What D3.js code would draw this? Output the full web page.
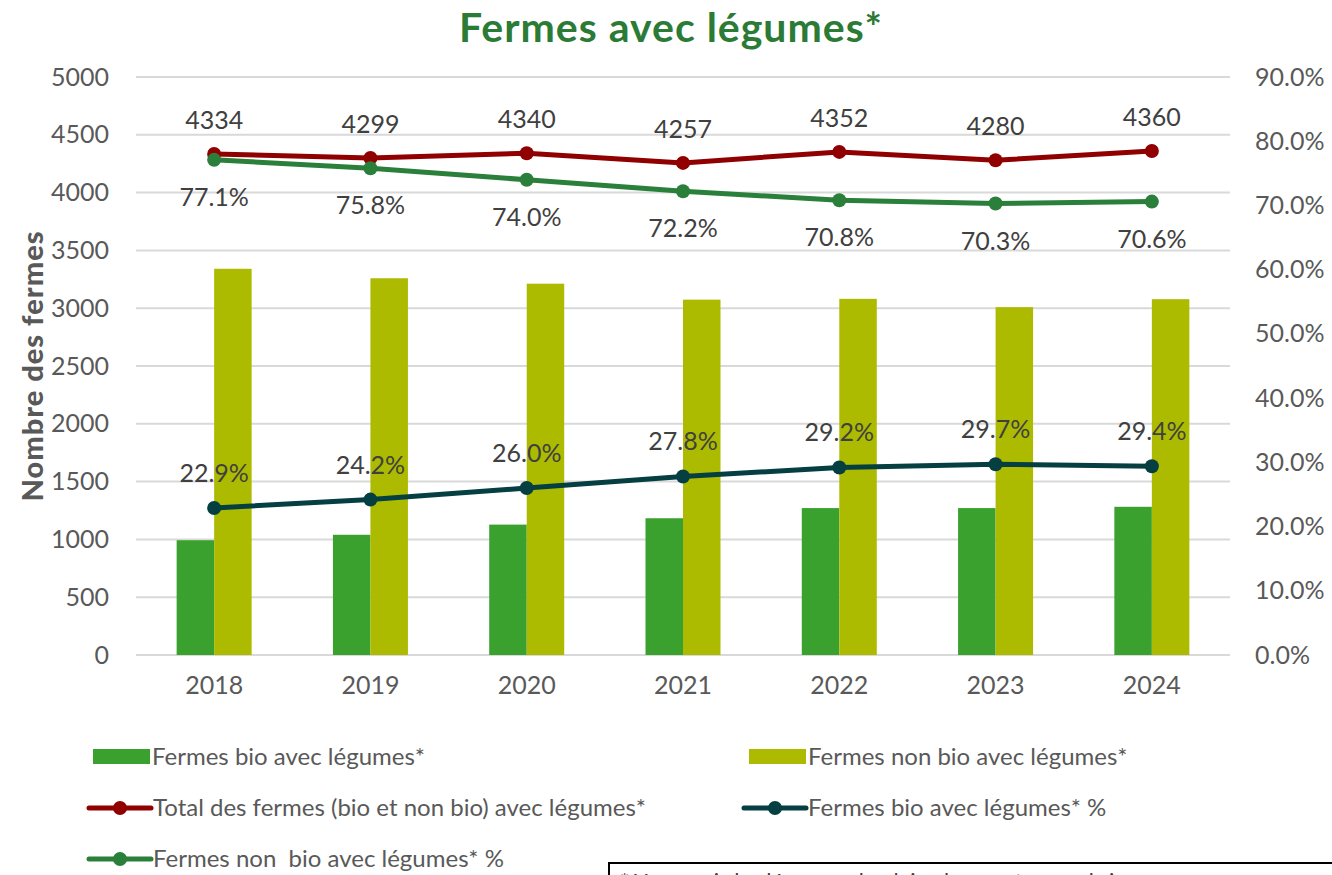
<!doctype html>
<html>
  <head>
    <meta charset="utf-8">
    <title>Fermes avec légumes</title>
    <script src="https://d3js.org/d3.v7.min.js"></script>
    <style>
      html, body { margin:0; padding:0; overflow:hidden; background:#fff }
      svg { display:block }
      text { font-family: Lato, "Open Sans", sans-serif; white-space: pre }
    </style>
  </head>
  <body>
    <div id="chart"></div>
    <script>
      var years = ["2018", "2019", "2020", "2021", "2022", "2023", "2024"];
      var bio = [993, 1040, 1128, 1183, 1271, 1271, 1282];
      var nonBio = [3341, 3259, 3212, 3074, 3081, 3009, 3078];
      var total = [4334, 4299, 4340, 4257, 4352, 4280, 4360];
      var bioPct = [0.229, 0.242, 0.260, 0.278, 0.292, 0.297, 0.294];
      var nonBioPct = [0.771, 0.758, 0.740, 0.722, 0.708, 0.703, 0.706];
      var leftTicks = [0, 500, 1000, 1500, 2000, 2500, 3000, 3500, 4000, 4500, 5000];
      var rightTicks = [0, 0.1, 0.2, 0.3, 0.4, 0.5, 0.6, 0.7, 0.8, 0.9];

      var W = 1332, H = 875;
      var m = {left: 136, right: 1230, top: 77, bottom: 655};

      var svg = d3.select("#chart").append("svg")
        .attr("width", W).attr("height", H);

      var x = d3.scaleBand().domain(years).range([m.left, m.right]);
      var yL = d3.scaleLinear().domain([0, 5000]).range([m.bottom, m.top]);
      var yR = d3.scaleLinear().domain([0, 0.9]).range([m.bottom, m.top]);
      var barW = 37.5;

      // title
      svg.append("text").attr("x", 671).attr("y", 42)
        .attr("text-anchor", "middle")
        .style("font-size", "41px").style("font-weight", "bold")
        .style("letter-spacing", "1px")
        .style("fill", "#2b7b37")
        .text("Fermes avec légumes*");

      // gridlines
      svg.append("g").selectAll("line").data(leftTicks).join("line")
        .attr("x1", m.left).attr("x2", m.right)
        .attr("y1", d => yL(d)).attr("y2", d => yL(d))
        .attr("stroke", "#d9d9d9").attr("stroke-width", 2);

      // axes
      var axL = svg.append("g").attr("transform", "translate(" + (m.left - 24) + ",0)")
        .call(d3.axisLeft(yL).tickValues(leftTicks).tickSize(0).tickFormat(d3.format("d")));
      var axR = svg.append("g").attr("transform", "translate(" + (m.right + 22) + ",0)")
        .call(d3.axisRight(yR).tickValues(rightTicks).tickSize(0).tickFormat(d3.format(".1%")));
      var axX = svg.append("g").attr("transform", "translate(0," + (m.bottom + 18) + ")")
        .call(d3.axisBottom(x).tickSize(0));
      [axL, axR, axX].forEach(function(a) {
        a.select(".domain").remove();
        a.selectAll("text").style("font-size", "25px").style("fill", "#595959")
          .style("font-family", "Lato, sans-serif");
      });

      svg.append("text")
        .attr("transform", "translate(43," + ((m.top + m.bottom) / 2) + ") rotate(-90)")
        .attr("text-anchor", "middle")
        .style("font-size", "29px").style("font-weight", "900").style("fill", "#595959")
        .style("letter-spacing", "1px")
        .text("Nombre des fermes");

      // bars
      var cx = d => x(d) + x.bandwidth() / 2;
      svg.append("g").selectAll("rect").data(years).join("rect")
        .attr("x", d => cx(d) - barW).attr("width", barW)
        .attr("y", (d, i) => yL(bio[i])).attr("height", (d, i) => yL(0) - yL(bio[i]))
        .attr("fill", "#3aa12e");
      svg.append("g").selectAll("rect").data(years).join("rect")
        .attr("x", d => cx(d)).attr("width", barW)
        .attr("y", (d, i) => yL(nonBio[i])).attr("height", (d, i) => yL(0) - yL(nonBio[i]))
        .attr("fill", "#adbb00");

      // lines
      function drawLine(vals, scale, color, fmt, dy) {
        var pts = years.map((d, i) => [cx(d), scale(vals[i])]);
        svg.append("path").attr("d", d3.line()(pts))
          .attr("fill", "none").attr("stroke", color).attr("stroke-width", 5)
          .attr("stroke-linejoin", "round");
        svg.append("g").selectAll("circle").data(pts).join("circle")
          .attr("cx", d => d[0]).attr("cy", d => d[1]).attr("r", 7)
          .attr("fill", color);
        svg.append("g").selectAll("text").data(vals).join("text")
          .attr("x", (d, i) => pts[i][0]).attr("y", (d, i) => pts[i][1] + dy)
          .attr("text-anchor", "middle")
          .style("font-size", "25px").style("fill", "#404040")
          .text(fmt);
      }
      drawLine(bioPct, yR, "#053f42", d3.format(".1%"), -26);
      drawLine(total, yL, "#900000", d3.format("d"), -25);
      drawLine(nonBioPct, yR, "#2a7f3a", d3.format(".1%"), 46);

      // legend
      var lg = svg.append("g").style("font-size", "24px");
      function legRect(x0, y0, color, label) {
        lg.append("rect").attr("x", x0).attr("y", y0 - 8).attr("width", 57).attr("height", 15).attr("fill", color);
        lg.append("text").attr("x", x0 + 59).attr("y", y0 + 8).style("fill", "#595959").text(label);
      }
      function legLine(x0, y0, color, label) {
        lg.append("line").attr("x1", x0).attr("x2", x0 + 62).attr("y1", y0).attr("y2", y0)
          .attr("stroke", color).attr("stroke-width", 5).attr("stroke-linecap", "round");
        lg.append("circle").attr("cx", x0 + 31).attr("cy", y0).attr("r", 7).attr("fill", color);
        lg.append("text").attr("x", x0 + 64).attr("y", y0 + 8).style("fill", "#595959").text(label);
      }
      legRect(93, 757, "#3aa12e", "Fermes bio avec légumes*");
      legRect(749, 757, "#adbb00", "Fermes non bio avec légumes*");
      legLine(89, 808, "#900000", "Total des fermes (bio et non bio) avec légumes*");
      legLine(744, 808, "#053f42", "Fermes bio avec légumes* %");
      legLine(89, 859, "#2a7f3a", "Fermes non  bio avec légumes* %");

      // note box (cut by the bottom edge)
      svg.append("rect").attr("x", 609).attr("y", 863).attr("width", 760).attr("height", 60)
        .attr("fill", "#fff").attr("stroke", "#000").attr("stroke-width", 2);
      svg.append("text").attr("x", 620).attr("y", 889)
        .style("font-size", "22px").style("fill", "#404040")
        .text("* Y compris les légumes de plein champ et sous abri");
    </script>
  </body>
</html>
